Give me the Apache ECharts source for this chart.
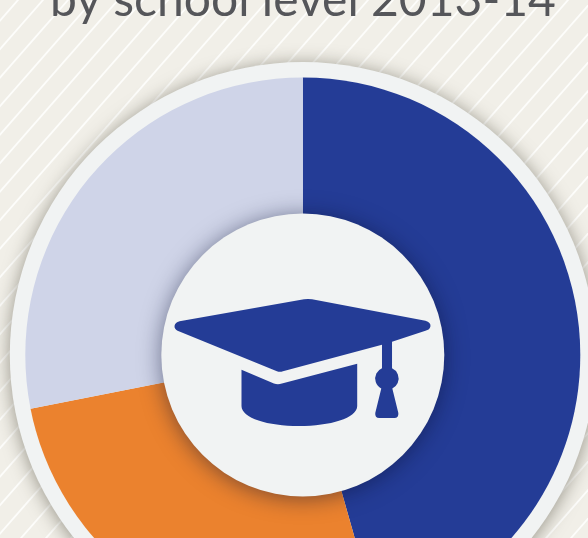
<!DOCTYPE html>
<html>
<head>
<meta charset="utf-8">
<style>
  html, body { margin: 0; padding: 0; overflow: hidden; background: #f1efe8; }
  #main { width: 588px; height: 538px; }
</style>
</head>
<body>
<div id="main"></div>
<script src="https://cdn.jsdelivr.net/npm/echarts@6/dist/echarts.min.js"></script>
<script>
// shares, no labels on the original crop
var levels = ['Level A', 'Level B', 'Level C'];
var shares = [45.6, 26.3, 28.1];
var colors = ['#243c96', '#eb822e', '#cfd4e8'];
var titleText = 'by school level 2013-14';

var hatPath = 'M304 299.6 Q308 299 312 299.6 L425 321 Q430.5 322.5 430 326.5 Q429.5 330 425 331 ' +
  'L391.7 342 L391.7 368.5 A11 11 0 0 1 392 388.5 L398 413 Q398.5 418 394 418 L379 418 Q374.5 418 375 413 ' +
  'L381 388.5 A11 11 0 0 1 381.7 368.5 L381.7 345 L283 371.5 Q280 372.5 277 371.5 L178 331 Q174.5 329 175 326 Q175.5 322.5 180 321.5 Z ' +
  'M241.7 370 L274 383.5 Q278 385 282 383.5 L357 364 L357 406 C357 418 330 426 299 426 C268 426 241.7 418 241.7 406 Z';

// white diagonal stripes behind everything
var stripes = [];
for (var x0 = -8.3; x0 < 1040; x0 += 25) {
  stripes.push({
    type: 'line', z: 0, silent: true,
    shape: { x1: x0 + 35 / 1.14, y1: -5, x2: x0 - 515 / 1.14, y2: 545 },
    style: { stroke: '#fdfdfb', lineWidth: 1.8 }
  });
}

var myChart = echarts.init(document.getElementById('main'), null, { renderer: 'canvas' });

myChart.setOption({
  animation: false,
  backgroundColor: 'transparent',
  graphic: stripes.concat([
    {
      type: 'text', z: 1, left: 50, top: -23,
      style: { text: titleText, fill: '#55565a', font: '48px Lato' }
    },
    {
      type: 'circle', z: 1,
      shape: { cx: 302.8, cy: 355, r: 293 },
      style: { fill: '#f1f3f3', shadowBlur: 18, shadowColor: 'rgba(60,55,40,0.5)', shadowOffsetY: 2 }
    },
    {
      type: 'circle', z: 10,
      shape: { cx: 302.8, cy: 355, r: 141.5 },
      style: { fill: '#f1f3f3', shadowBlur: 22, shadowColor: 'rgba(10,15,50,0.5)', shadowOffsetY: 2 }
    }
  ]),
  series: [
    {
      type: 'pie',
      z: 5,
      center: [302.8, 355],
      radius: [0, 277.5],
      startAngle: 90,
      clockwise: true,
      silent: true,
      label: { show: false },
      labelLine: { show: false },
      data: levels.map(function (name, i) {
        return { name: name, value: shares[i], itemStyle: { color: colors[i] } };
      })
    },
    {
      // mortarboard icon in the middle
      type: 'custom',
      coordinateSystem: 'none',
      z: 11,
      silent: true,
      data: [0],
      renderItem: function () {
        return {
          type: 'path',
          z2: 100,
          shape: { pathData: hatPath, layout: 'cover', x: 174.5, y: 299, width: 256, height: 127 },
          style: { fill: colors[0] }
        };
      }
    }
  ]
});
</script>
</body>
</html>
